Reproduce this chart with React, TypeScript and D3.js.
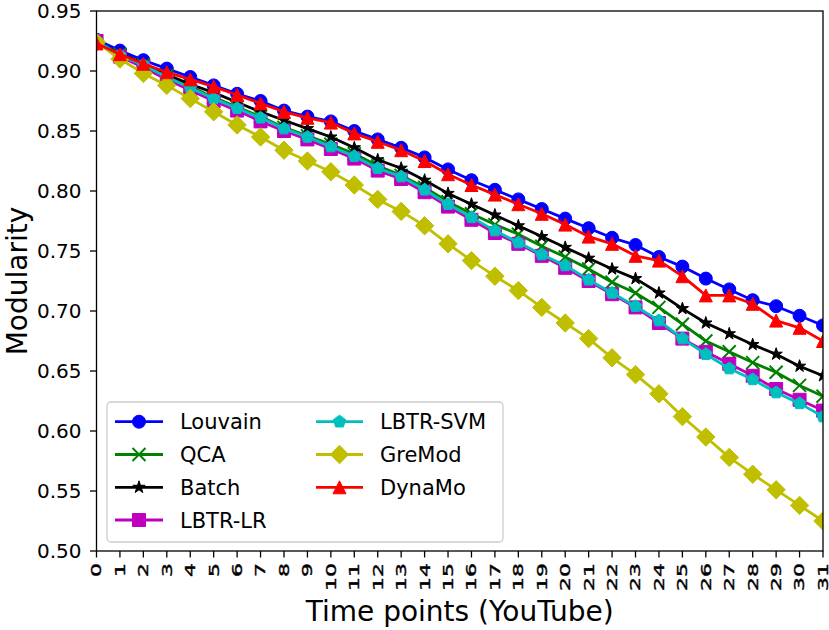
import React from "react";
import * as d3 from "d3";

const timePoints = d3.range(0, 32);
const yTicks = [0.5, 0.55, 0.6, 0.65, 0.7, 0.75, 0.8, 0.85, 0.9, 0.95];

const louvain = [0.926,0.917,0.909,0.902,0.895,0.888,0.881,0.875,0.867,0.862,0.858,0.850,0.843,0.836,0.828,0.818,0.809,0.801,0.793,0.785,0.777,0.769,0.761,0.755,0.745,0.737,0.727,0.718,0.709,0.704,0.696,0.688];
const qca = [0.925,0.914,0.905,0.896,0.887,0.878,0.870,0.862,0.853,0.846,0.839,0.831,0.821,0.813,0.803,0.791,0.781,0.772,0.764,0.754,0.745,0.735,0.724,0.715,0.703,0.689,0.675,0.666,0.657,0.649,0.638,0.629];
const batch = [0.923,0.915,0.906,0.897,0.889,0.882,0.874,0.866,0.859,0.852,0.845,0.836,0.826,0.819,0.809,0.798,0.789,0.780,0.771,0.762,0.753,0.744,0.735,0.727,0.715,0.702,0.690,0.681,0.672,0.664,0.654,0.646];
const lbtrLR = [0.925,0.912,0.903,0.893,0.884,0.875,0.867,0.858,0.850,0.843,0.835,0.827,0.817,0.810,0.799,0.787,0.776,0.765,0.756,0.746,0.736,0.725,0.714,0.703,0.690,0.677,0.666,0.656,0.646,0.635,0.626,0.617];
const lbtrSVM = [0.925,0.913,0.905,0.895,0.886,0.877,0.869,0.861,0.852,0.845,0.837,0.829,0.819,0.812,0.801,0.789,0.778,0.767,0.757,0.747,0.738,0.726,0.715,0.704,0.692,0.677,0.664,0.652,0.643,0.632,0.623,0.612];
const gremod = [0.924,0.910,0.898,0.888,0.877,0.866,0.855,0.845,0.834,0.825,0.816,0.805,0.793,0.783,0.771,0.756,0.742,0.729,0.717,0.703,0.690,0.677,0.661,0.647,0.631,0.612,0.595,0.578,0.564,0.551,0.538,0.525];
const dynamo = [0.923,0.914,0.906,0.899,0.893,0.887,0.880,0.873,0.866,0.861,0.857,0.848,0.841,0.834,0.825,0.814,0.805,0.797,0.789,0.781,0.772,0.762,0.756,0.746,0.742,0.729,0.713,0.713,0.706,0.692,0.686,0.675];

const seriesNames = ["Louvain", "QCA", "Batch", "LBTR-LR", "LBTR-SVM", "GreMod", "DynaMo"];
const seriesValues = [louvain, qca, batch, lbtrLR, lbtrSVM, gremod, dynamo];
const seriesColors = ["#0000ff", "#008000", "#000000", "#bf00bf", "#00bfbf", "#bfbf00", "#ff0000"];
const seriesMarkers = ["circle", "x", "star", "square", "pentagon", "diamond", "triangle"];

const W = 829, H = 630;
const L = 96.5, R = 823, T = 11, B = 551;
const MS = 13;
const LW = 2.8;
const FONT = "DejaVu Sans, Verdana, sans-serif";

function markerPath(type: string, ms: number): string {
  const h = ms / 2;
  switch (type) {
    case "circle":
      return `M${h},0A${h},${h} 0 1,1 ${-h},0A${h},${h} 0 1,1 ${h},0Z`;
    case "square":
      return `M${-h},${-h}H${h}V${h}H${-h}Z`;
    case "diamond": {
      const d = h * Math.SQRT2;
      return `M0,${-d}L${d},0L0,${d}L${-d},0Z`;
    }
    case "triangle":
      return `M0,${-h}L${h},${h}L${-h},${h}Z`;
    case "pentagon": {
      const pts = d3.range(5).map((i) => {
        const a = -Math.PI / 2 + (i * 2 * Math.PI) / 5;
        return [h * Math.cos(a), h * Math.sin(a)];
      });
      return "M" + pts.map((p) => p.join(",")).join("L") + "Z";
    }
    case "star": {
      const inner = h * 0.381966;
      const pts = d3.range(10).map((i) => {
        const a = -Math.PI / 2 + (i * Math.PI) / 5;
        const r = i % 2 === 0 ? h : inner;
        return [r * Math.cos(a), r * Math.sin(a)];
      });
      return "M" + pts.map((p) => p.join(",")).join("L") + "Z";
    }
    case "x":
      return `M${-h},${-h}L${h},${h}M${-h},${h}L${h},${-h}`;
  }
  return "";
}

function Marker({ type, color, x, y }: { type: string; color: string; x: number; y: number }) {
  const isX = type === "x";
  return (
    <path
      d={markerPath(type, MS)}
      transform={`translate(${x},${y})`}
      fill={isX ? "none" : color}
      stroke={color}
      strokeWidth={isX ? 2 : 1}
      strokeLinejoin="miter"
    />
  );
}

export default function App() {
  const x = d3.scaleLinear().domain([0, 31]).range([L, R]);
  const y = d3.scaleLinear().domain([0.5, 0.95]).range([B, T]);
  const line = d3
    .line<number>()
    .x((_, i) => x(timePoints[i]))
    .y((d) => y(d));

  const legendRowY = [421.7, 454.5, 487.3, 520];
  const legendCols = [
    { x1: 115, x2: 163, tx: 180 },
    { x1: 316, x2: 363, tx: 380 },
  ];

  return (
    <svg
      width={W}
      height={H}
      style={{ position: "absolute", left: 0, top: 0, background: "#fff" }}
      fontFamily={FONT}
    >
      <rect x={0} y={0} width={W} height={H} fill="#fff" />
      <defs>
        <clipPath id="plotclip">
          <rect x={L} y={T} width={R - L} height={B - T} />
        </clipPath>
      </defs>

      <g clipPath="url(#plotclip)">
        {seriesValues.map((vals, si) => (
          <g key={seriesNames[si]}>
            <path d={line(vals) || ""} fill="none" stroke={seriesColors[si]} strokeWidth={LW} strokeLinejoin="round" />
            {vals.map((v, i) => (
              <Marker key={i} type={seriesMarkers[si]} color={seriesColors[si]} x={x(timePoints[i])} y={y(v)} />
            ))}
          </g>
        ))}
      </g>

      {/* frame */}
      <rect x={L} y={T} width={R - L} height={B - T} fill="none" stroke="#000" strokeWidth={1.3} />

      {/* y ticks */}
      {yTicks.map((t) => (
        <g key={t}>
          <line x1={L - 6.5} x2={L} y1={y(t)} y2={y(t)} stroke="#000" strokeWidth={1.3} />
          <text x={81.5} y={y(t) + 7} textAnchor="end" fontSize={20} fill="#000">
            {d3.format(".2f")(t)}
          </text>
        </g>
      ))}

      {/* x ticks */}
      {timePoints.map((t) => (
        <g key={t}>
          <line x1={x(t)} x2={x(t)} y1={B} y2={B + 6.5} stroke="#000" strokeWidth={1.3} />
          <text
            transform={`translate(${x(t)},563) rotate(-90) scale(1,0.62)`}
            textAnchor="end"
            dy="0.36em"
            fontSize={22}
            fill="#000"
            stroke="#000"
            strokeWidth={0.6}
          >
            {String(t)}
          </text>
        </g>
      ))}

      {/* axis labels */}
      <text x={(L + R) / 2} y={621} textAnchor="middle" fontSize={28} fill="#000">
        Time points (YouTube)
      </text>
      <text transform={`translate(27,${(T + B) / 2}) rotate(-90)`} textAnchor="middle" fontSize={28} fill="#000">
        Modularity
      </text>

      {/* legend */}
      <rect x={107} y={402} width={396} height={140} rx={4} ry={4} fill="#fff" fillOpacity={0.8} stroke="#cccccc" strokeWidth={1.3} />
      {seriesNames.map((name, si) => {
        const col = si < 4 ? 0 : 1;
        const row = si < 4 ? si : si - 4;
        const c = legendCols[col];
        const cy = legendRowY[row];
        return (
          <g key={name}>
            <line x1={c.x1} x2={c.x2} y1={cy} y2={cy} stroke={seriesColors[si]} strokeWidth={LW} />
            <Marker type={seriesMarkers[si]} color={seriesColors[si]} x={(c.x1 + c.x2) / 2} y={cy} />
            <text x={c.tx} y={cy + 7.6} fontSize={21} fill="#000">
              {name}
            </text>
          </g>
        );
      })}
    </svg>
  );
}
